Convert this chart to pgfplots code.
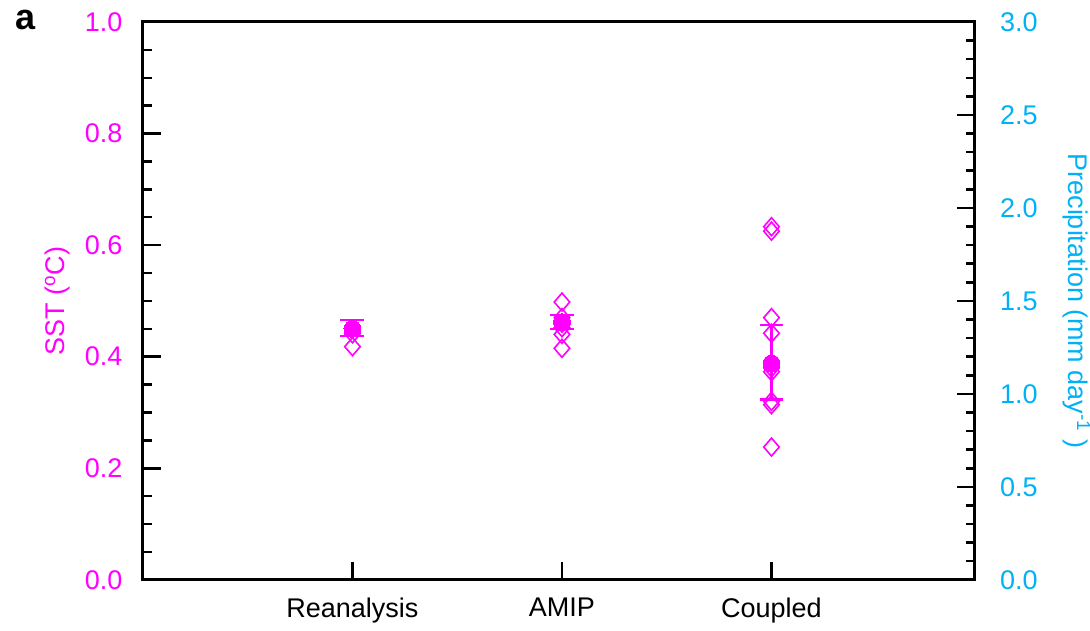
\documentclass[border=0pt]{standalone}
\usepackage{pgfplots}
\pgfplotsset{compat=1.18}
\usepackage{fontspec}
\setmainfont{Liberation Sans}
\definecolor{mag}{RGB}{255,0,255}
\definecolor{cyn}{RGB}{0,178,245}
\begin{document}
\fontsize{27}{32}\selectfont
\begin{tikzpicture}
\begin{axis}[name=main,
  scale only axis, width=832pt, height=558pt,
  xmin=0, xmax=3.97, ymin=0, ymax=1,
  line width=3pt,
  xtick={1,2,3}, xticklabels={Reanalysis,AMIP,Coupled},
  xtick pos=bottom, ytick pos=left,
  ytick={0,0.2,...,1.0}, minor y tick num=3,
  major tick length=18pt, minor tick length=9pt,
  every tick/.style={black, line width=2.5pt},
  tick align=inside,
  /pgf/number format/assume math mode=true,
  yticklabel style={mag, inner sep=2pt, xshift=-17pt, /pgf/number format/fixed, /pgf/number format/fixed zerofill, /pgf/number format/precision=1},
  xticklabel style={inner sep=2pt, yshift=-15pt},
  every axis y label/.style={at={(axis description cs:-0.103,0.5)}, rotate=90, anchor=center, inner sep=0pt, mag},
  ylabel={SST (\textsuperscript{o}C)},
  clip=false,
]
\addplot[only marks, mark=diamond, mark size=9pt, mag, mark options={xscale=1.15, line width=1.6pt}] coordinates {
 (1,0.441) (1,0.418)
 (2,0.498) (2,0.470) (2,0.460) (2,0.452) (2,0.440) (2,0.415)
 (3,0.633) (3,0.625) (3,0.470) (3,0.442) (3,0.388) (3,0.380) (3,0.373) (3,0.320) (3,0.314) (3,0.238)
};
\addplot[only marks, mark=none, mag, line width=3pt,
  error bars/.cd, y dir=both, y explicit,
  error bar style={line width=3pt, mag},
  error mark options={mag, mark size=12pt, line width=2.5pt, rotate=90}]
 coordinates {
 (1,0.450) += (0,0.016) -= (0,0.013)
 (2,0.462) += (0,0.013) -= (0,0.012)
 (3,0.388) += (0,0.069) -= (0,0.065)
};
\addplot[only marks, mark=*, mark size=8.5pt, mag, mark options={line width=0pt}] coordinates {
 (1,0.450) (2,0.462) (3,0.388)
};
\end{axis}
\begin{axis}[
  scale only axis, width=832pt, height=558pt,
  xmin=0, xmax=3.97, ymin=0, ymax=3,
  line width=3pt,
  axis x line=none, axis y line*=right,
  ytick={0,0.5,...,3.0}, minor y tick num=4,
  major tick length=18pt, minor tick length=9pt,
  every tick/.style={black, line width=2.5pt},
  tick align=inside,
  /pgf/number format/assume math mode=true,
  yticklabel style={cyn, inner sep=2pt, xshift=22pt, /pgf/number format/fixed, /pgf/number format/fixed zerofill, /pgf/number format/precision=1},
  every axis y label/.style={at={(axis description cs:1.122,0.5)}, rotate=-90, anchor=center, inner sep=0pt, cyn},
  ylabel={Precipitation (mm day\textsuperscript{-1} )},
]
\end{axis}
\node[inner sep=0pt, font=\fontsize{36}{40}\selectfont\bfseries] at ([shift={(-117pt,2pt)}]main.north west) {a};
\path (main.south west) ++(-143pt,-51pt) rectangle ([shift={(115pt,22pt)}]main.north east);
\end{tikzpicture}
\end{document}
